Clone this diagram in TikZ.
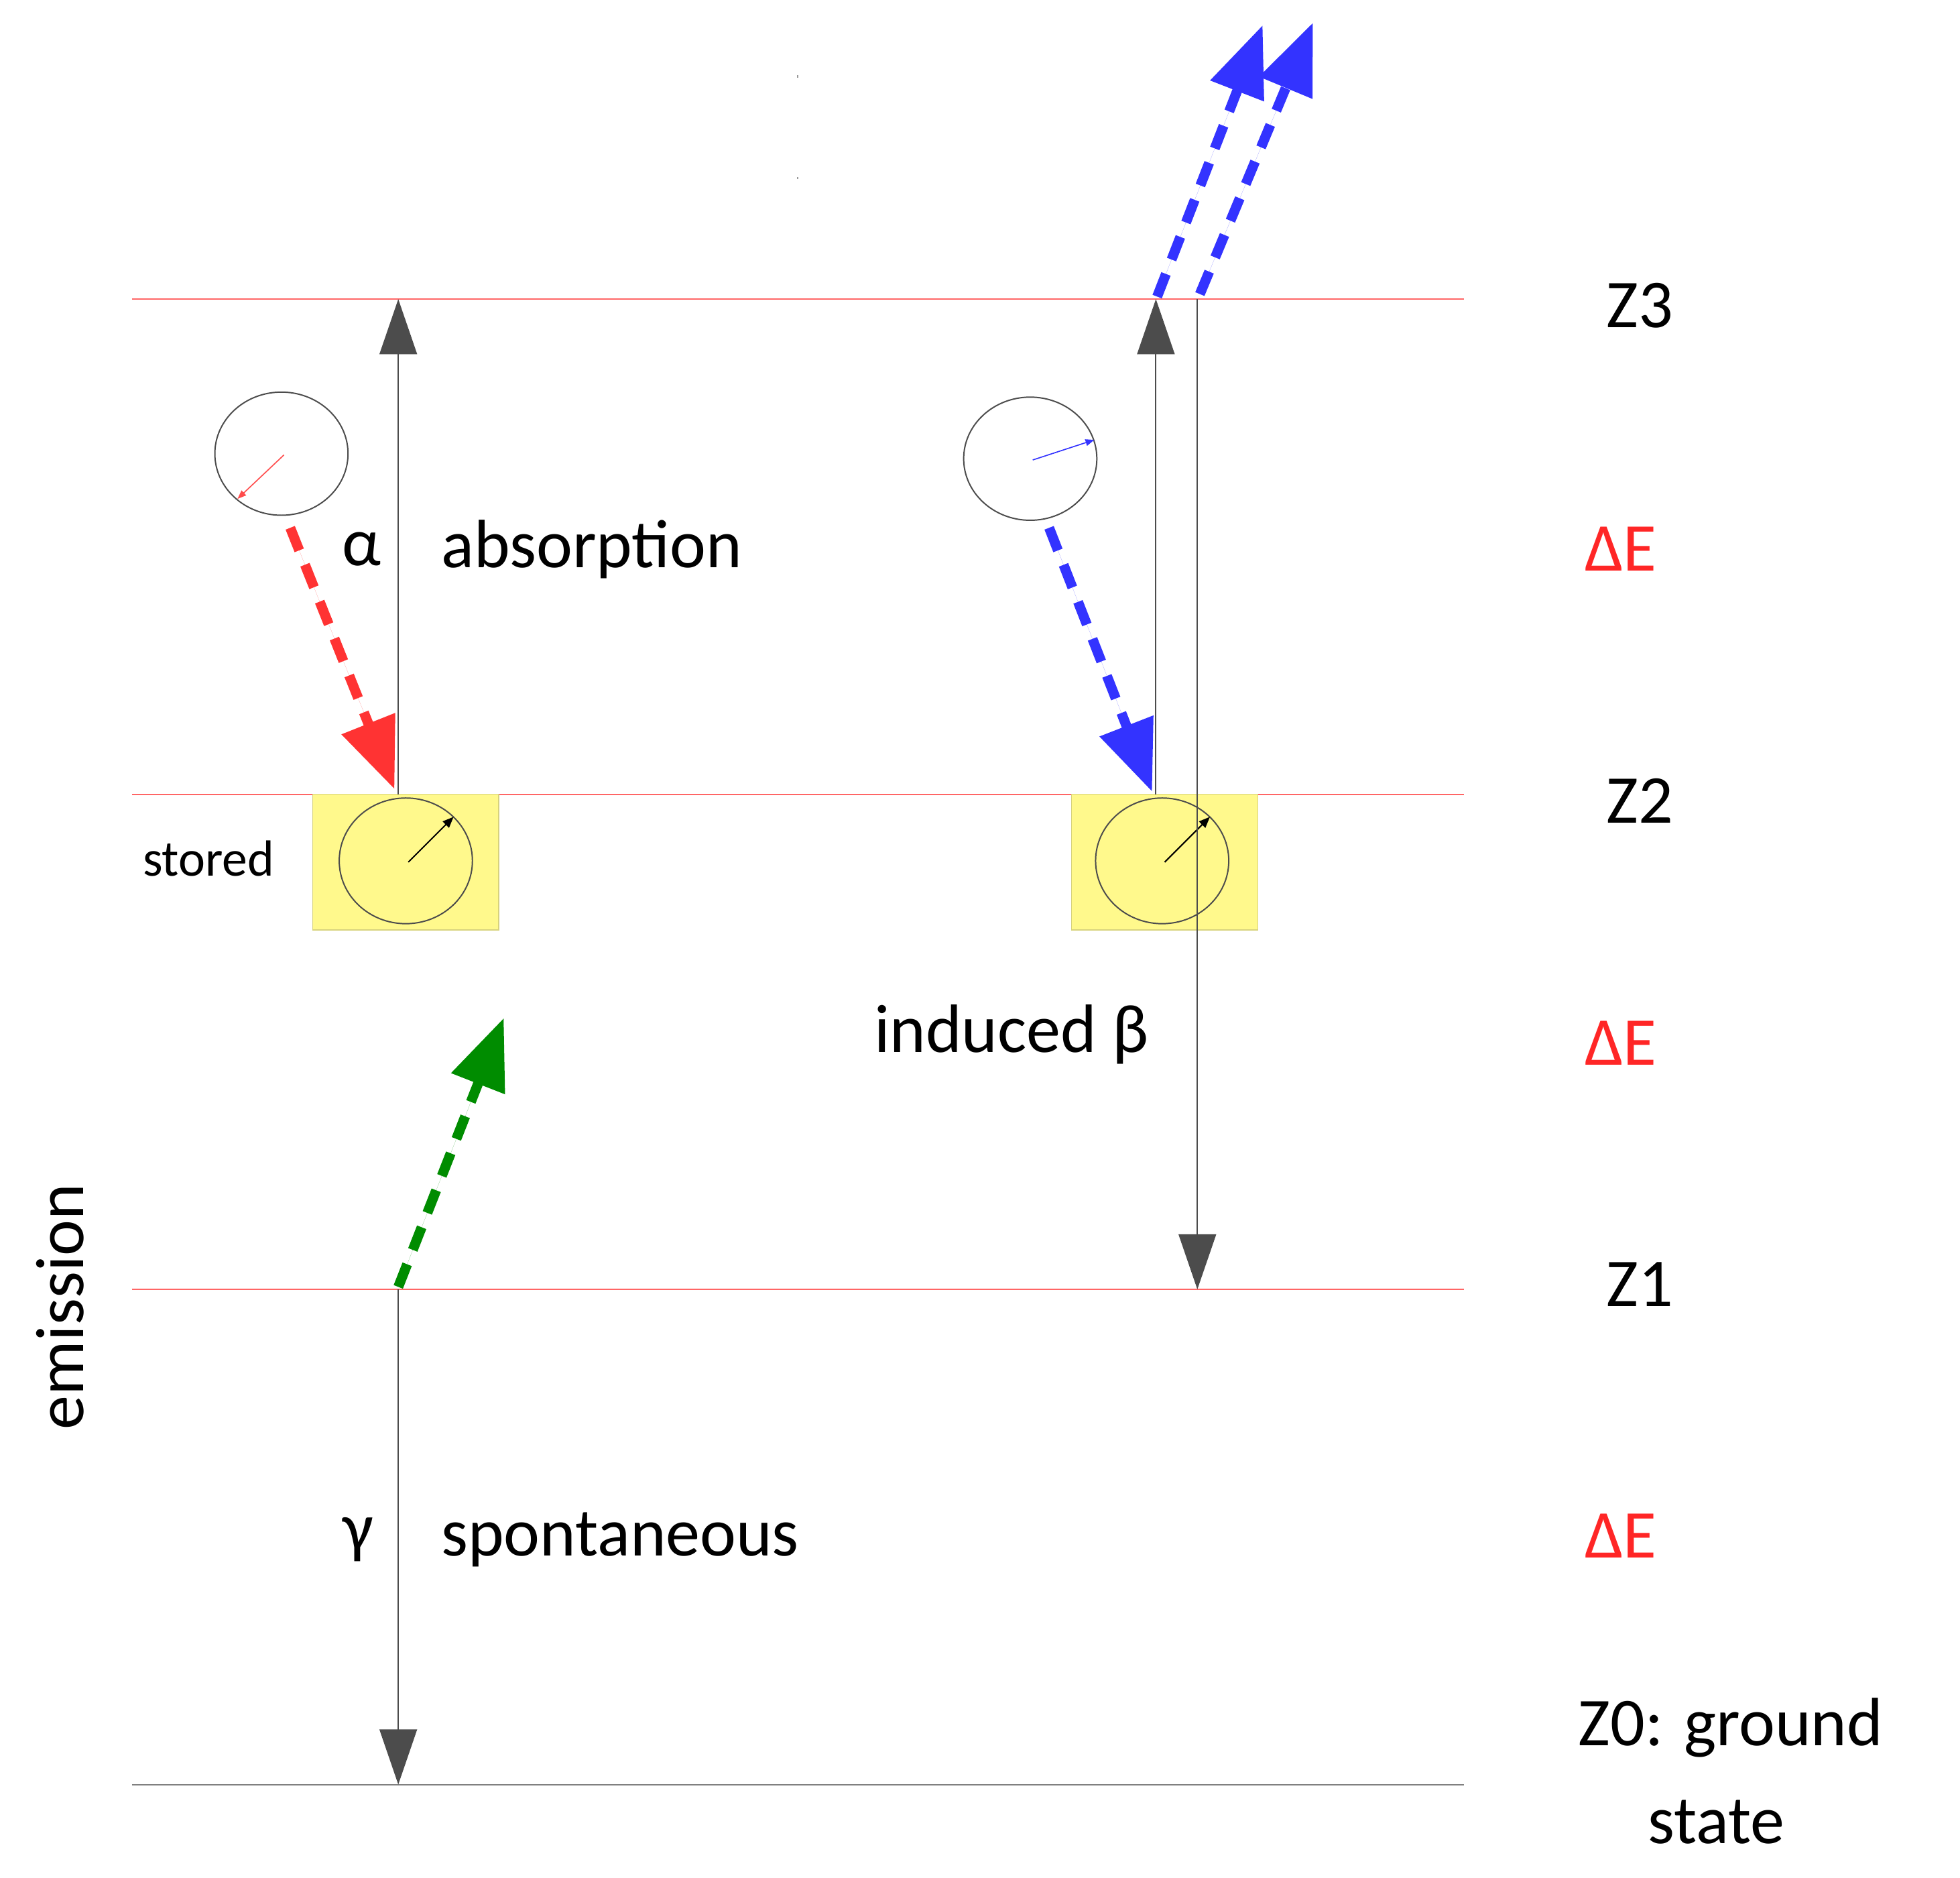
\documentclass[tikz,border=0pt]{standalone}
\usepackage{fontspec}
\setmainfont{Carlito}
\usetikzlibrary{arrows.meta}
\begin{document}
\begin{tikzpicture}[x=0.02cm,y=-0.02cm,
  lvl/.style={draw=red!60,line width=0.6pt},
  thin/.style={draw=black!70,line width=0.6pt},
  bh/.style={-{Triangle[length=25pt,width=17pt]}},
  photon/.style={line width=4.5pt,dash pattern=on 11pt off 7pt,-{Triangle[length=32pt,width=25pt]}},
  lab/.style={font=\fontsize{31}{36}\selectfont},
  de/.style={font=\fontsize{31}{36}\selectfont,text=red!85},
  box/.style={fill=yellow!45,draw=yellow!70!black!60,line width=0.4pt}]
\useasboundingbox (0,0) rectangle (1560,1494);
% levels
\draw[lvl] (105,238) coordinate (l3a) -- (1165,238) coordinate (l3b);
\draw[lvl] (105,632) coordinate (l2a) -- (1165,632) coordinate (l2b);
\draw[lvl] (105,1026) coordinate (l1a) -- (1165,1026) coordinate (l1b);
\draw[draw=black!50,line width=0.6pt] (105,1420) coordinate (l0a) -- (1165,1420) coordinate (l0b);
\draw[draw=black!40,line width=0.6pt,dash pattern=on 1pt off 45pt] (635,60) coordinate (d1) -- (635,210) coordinate (d2);
% boxes
\node[box,minimum width=148*0.02cm,minimum height=108*0.02cm,inner sep=0pt] (b1) at (323,686) {};
\node[box,minimum width=148*0.02cm,minimum height=108*0.02cm,inner sep=0pt] (b2) at (927,686) {};
\draw[thin] (323,685) ellipse (53 and 50);
\draw[thin] (925,685) ellipse (53 and 50);
\coordinate (c1) at (325,686); \coordinate (c1e) at (361,650);
\coordinate (c2) at (927,686); \coordinate (c2e) at (963,650);
\draw[line width=0.6pt,-{Triangle[length=5pt,width=4pt]}] (c1) -- (c1e);
\draw[line width=0.6pt,-{Triangle[length=5pt,width=4pt]}] (c2) -- (c2e);
% upper circles
\draw[thin] (224,361) ellipse (53 and 49);
\draw[thin] (820,365) ellipse (53 and 49);
\coordinate (r1) at (226,362); \coordinate (r1e) at (189,397);
\draw[red!70,line width=0.5pt,-{Triangle[length=4pt,width=3pt]}] (r1) -- (r1e);
\coordinate (u1) at (822,366); \coordinate (u1e) at (871,350);
\draw[blue!80,line width=0.5pt,-{Triangle[length=4pt,width=3pt]}] (u1) -- (u1e);
% black transitions
\coordinate (a0) at (317,632); \coordinate (a1) at (317,238);
\draw[thin,bh] (a0) -- (a1);
\coordinate (s0) at (317,1026); \coordinate (s1) at (317,1420);
\draw[thin,bh] (s0) -- (s1);
\coordinate (i0) at (920,632); \coordinate (i1) at (920,238);
\draw[thin,bh] (i0) -- (i1);
\coordinate (j0) at (953,238); \coordinate (j1) at (953,1026);
\draw[thin,bh] (j0) -- (j1);
% photons
\coordinate (p1) at (231,420); \coordinate (p1e) at (314,628);
\draw[photon,draw=red!80,fill=red!80] (p1) -- (p1e);
\coordinate (p2) at (835,420); \coordinate (p2e) at (917,630);
\draw[photon,draw=blue!80,fill=blue!80] (p2) -- (p2e);
\coordinate (p3) at (921,236); \coordinate (p3e) at (1005,20);
\draw[photon,draw=blue!80,fill=blue!80] (p3) -- (p3e);
\coordinate (p4) at (955,234); \coordinate (p4e) at (1045,18);
\draw[photon,draw=blue!80,fill=blue!80] (p4) -- (p4e);
\coordinate (p5) at (317,1024); \coordinate (p5e) at (401,810);
\draw[photon,draw=green!55!black,fill=green!55!black] (p5) -- (p5e);
% labels
\node[lab] (z3) at (1305,243) {Z3};
\node[lab] (z2) at (1305,637) {Z2};
\node[lab] (z1) at (1305,1022) {Z1};
\node[lab,anchor=west] (z0) at (1250,1375) {Z0: ground};
\node[lab] (st) at (1366,1450) {state};
\node[de] (e1) at (1290,437) {ΔE};
\node[de] (e2) at (1290,830) {ΔE};
\node[de] (e3) at (1290,1222) {ΔE};
\node[lab] (al) at (288,437) {α};
\node[lab,anchor=west] (ab) at (345,437) {absorption};
\node[lab] (ga) at (285,1225) {γ};
\node[lab,anchor=west] (sp) at (345,1225) {spontaneous};
\node[lab] (ib) at (805,823) {induced β};
\node[font=\fontsize{23}{28}\selectfont] (sto) at (166,683) {stored};
\node[lab,rotate=90] (em) at (48,1040) {emission};
\end{tikzpicture}
\end{document}
